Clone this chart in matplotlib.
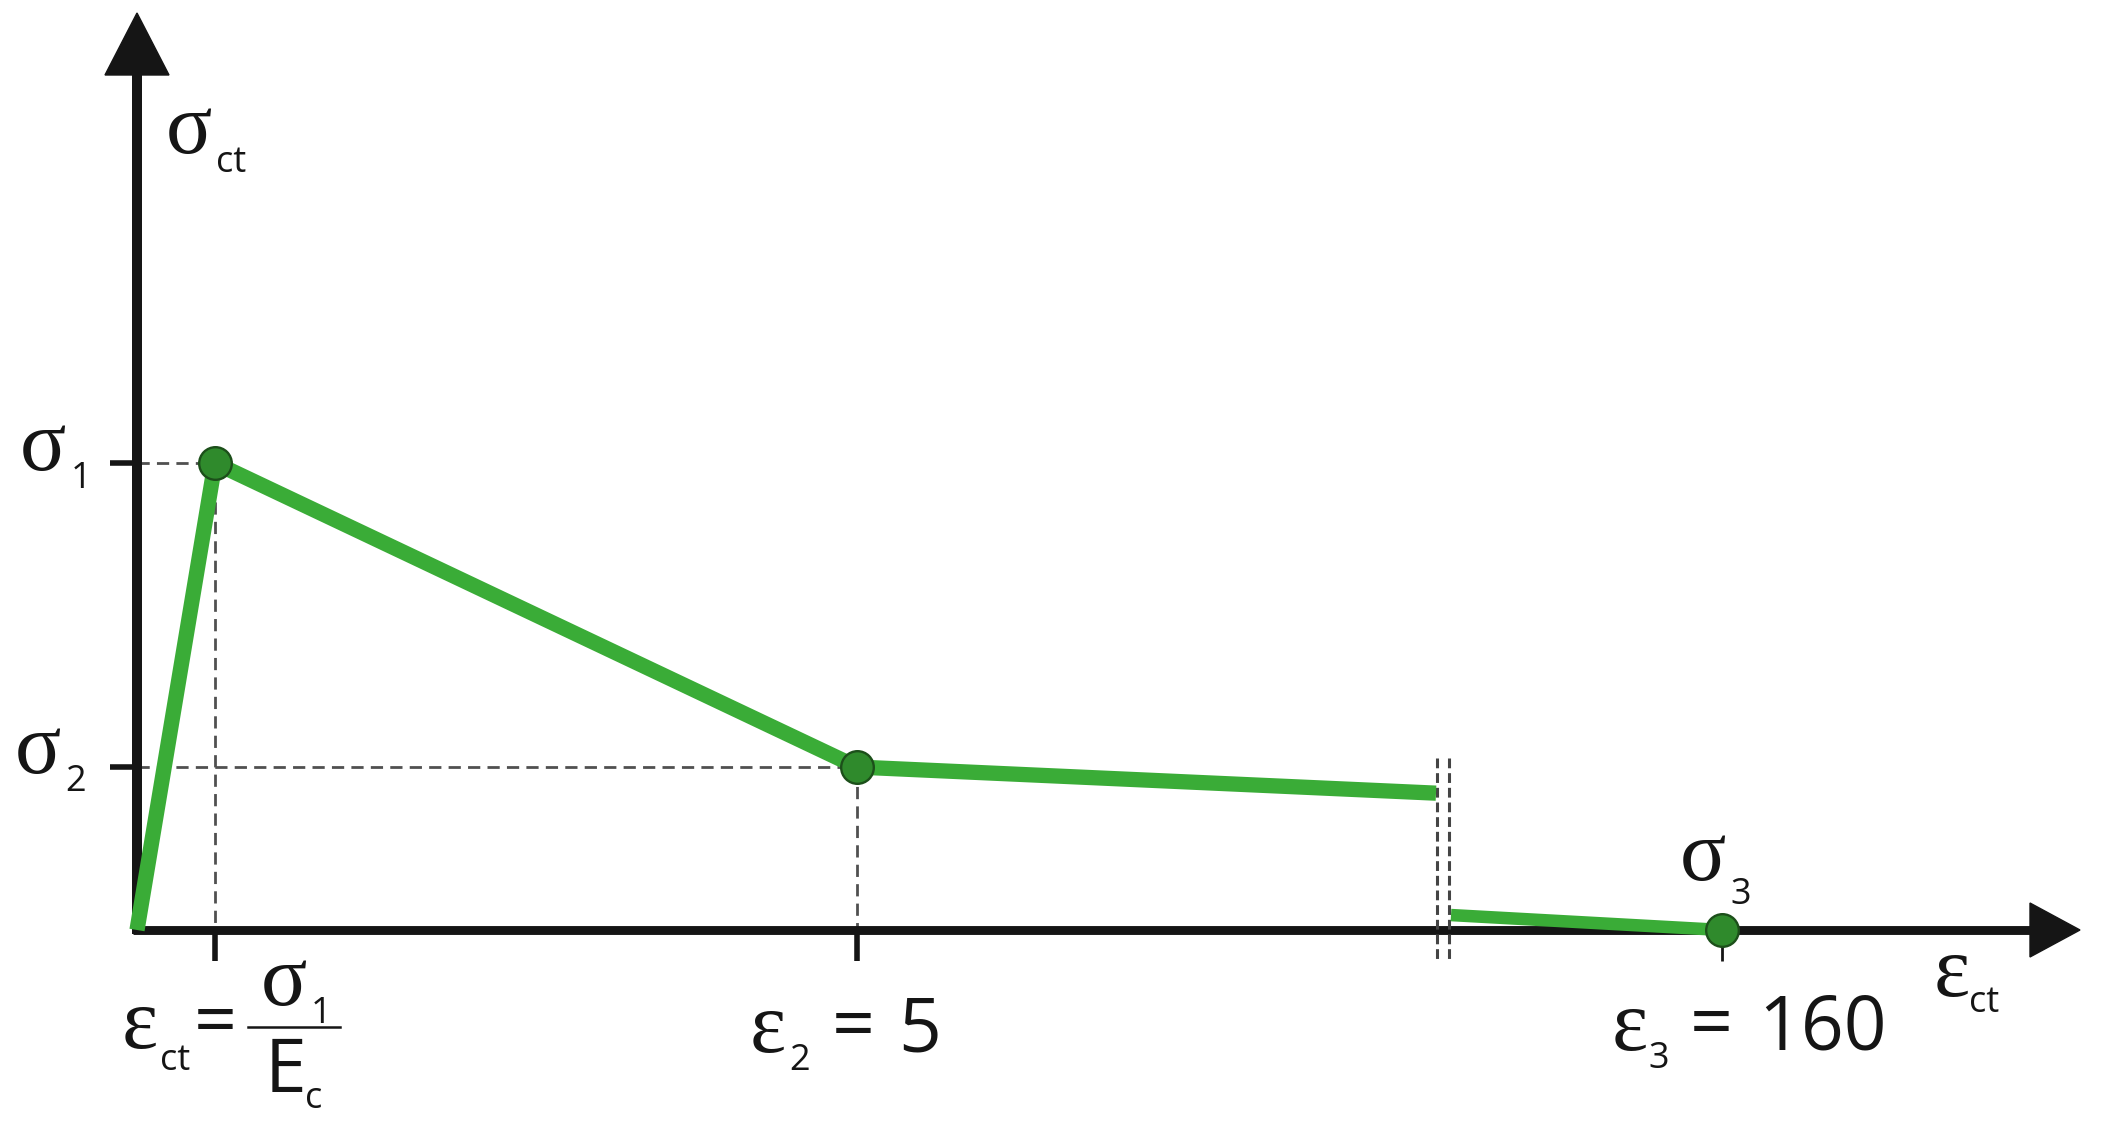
import matplotlib
matplotlib.use("Agg")
import matplotlib.pyplot as plt
from matplotlib.transforms import IdentityTransform
from matplotlib.patches import Polygon

# ---------------- data (schematic positions / normalised stress) ----------------
branch1_strain = [0.0, 0.78, 7.20, 12.99]      # schematic x positions before the axis break
branch1_stress = [0.0, 1.0, 0.349, 0.293]      # sigma / sigma_1
branch2_strain = [13.14, 15.85]                # after the axis break
branch2_stress = [0.032, 0.0]
point_strain = [0.78, 7.20, 15.85]             # marked points (eps_1, eps_2, eps_3)
point_stress = [1.0, 0.349, 0.0]               # sigma_1, sigma_2, sigma_3
ytick_vals = [1.0, 0.349]
xtick_vals = [0.78, 7.20, 15.85]
break_pos = [13.00, 13.12]

W, H = 2104, 1124
X0, Y0 = 137, 930          # pixel position of the origin
SX, SY = 100.0, 467.0      # pixels per data unit

fig = plt.figure(figsize=(W / 100, H / 100), dpi=100)
ax = fig.add_axes([0, 0, 1, 1])
ax.set_xlim(-X0 / SX, (W - X0) / SX)
ax.set_ylim(-(H - Y0) / SY, Y0 / SY)
ax.axis("off")

GREEN = "#3aac37"
DOT = "#2f8a2c"
DOT_EDGE = "#1c4f1a"
GREY = "#505050"
INK = "#151515"

# axes with arrows
y_top_base = (Y0 - 75) / SY
y_tip = (Y0 - 13) / SY
x_right_base = (2030 - X0) / SX
x_tip = (2080 - X0) / SX
ax.plot([0, 0], [-4 / SY, y_top_base], color=INK, lw=7.2, solid_capstyle="butt", zorder=3)
ax.plot([-4 / SX, x_right_base], [0, 0], color=INK, lw=6.4, solid_capstyle="butt", zorder=3)
ax.add_patch(Polygon([[-32 / SX, y_top_base], [32 / SX, y_top_base], [0, y_tip]],
                     closed=True, color=INK, zorder=3))
ax.add_patch(Polygon([[x_right_base, 27 / SY], [x_right_base, -27 / SY], [x_tip, 0]],
                     closed=True, color=INK, zorder=3))

# ticks
for yv in ytick_vals:
    ax.plot([-27 / SX, 0], [yv, yv], color=INK, lw=4.0, solid_capstyle="butt", zorder=3)
for i, xv in enumerate(xtick_vals):
    lw = 4.0 if i < 2 else 2.0
    ax.plot([xv, xv], [0, -31 / SY], color=INK, lw=lw, solid_capstyle="butt", zorder=3)

# dashed guide lines
dash = dict(color=GREY, lw=2.0, dashes=(4.4, 2.6), zorder=2)
ax.plot([0, point_strain[0]], [point_stress[0], point_stress[0]], **dash)
ax.plot([point_strain[0], point_strain[0]], [point_stress[0], 0], **dash)
ax.plot([0, point_strain[1]], [point_stress[1], point_stress[1]], **dash)
ax.plot([point_strain[1], point_strain[1]], [point_stress[1], 0], **dash)

# axis break marks
for bx in break_pos:
    ax.plot([bx, bx], [(Y0 - 758) / SY, (Y0 - 962) / SY], color="#444444", lw=2.2,
            dashes=(3.2, 1.6), zorder=4)

# curve
ax.plot(branch1_strain, branch1_stress, color=GREEN, lw=11.0,
        solid_capstyle="butt", solid_joinstyle="round", zorder=5)
ax.plot(branch2_strain, branch2_stress, color=GREEN, lw=9.0,
        solid_capstyle="butt", zorder=5)
ax.plot(point_strain, point_stress, linestyle="none", marker="o", markersize=23.5,
        markerfacecolor=DOT, markeredgecolor=DOT_EDGE, markeredgewidth=1.7, zorder=6)

# ---------------- labels ----------------
ID = IdentityTransform()
GREEK = ["Liberation Serif", "DejaVu Serif"]
SANS = ["Open Sans", "DejaVu Sans"]


def txt(px, py, s, size, fam, **kw):
    fig.text(px, H - py, s, transform=ID, fontsize=size, family=fam, color=INK,
             ha="left", va="baseline", **kw)


GS = 62     # greek size
SUB = 26    # subscript size
NUM = 54    # numbers size

# y axis label sigma_ct
txt(166, 153, "σ", GS, GREEK)
txt(216, 172, "ct", SUB, SANS)
# sigma_1, sigma_2
txt(20, 470, "σ", GS, GREEK)
txt(71, 488, "1", SUB, SANS)
txt(15, 773, "σ", GS, GREEK)
txt(65, 791, "2", SUB, SANS)
# sigma_3
txt(1680, 880, "σ", GS, GREEK)
txt(1730, 904, "3", SUB, SANS)
# x axis label
txt(1934, 996, "ε", GS, GREEK)
txt(1969, 1012, "ct", SUB, SANS)

# eps_ct = sigma_1 / E_c
txt(122, 1048, "ε", GS, GREEK)
txt(160, 1070, "ct", SUB, SANS)
txt(194, 1046, "=", NUM, SANS)
fig.add_artist(plt.Line2D([248, 340], [H - 1027, H - 1027], transform=ID,
                          color=INK, lw=1.8))
txt(261, 1005, "σ", GS, GREEK)
txt(311, 1023, "1", SUB, SANS)
txt(265, 1092, "E", NUM, SANS)
txt(305, 1108, "c", SUB, SANS)

# eps_2 = 5
txt(750, 1052, "ε", GS, GREEK)
txt(789, 1070, "2", SUB, SANS)
txt(832, 1050, "=", NUM, SANS)
txt(898, 1052, "5", NUM, SANS)

# eps_3 = 160
txt(1612, 1050, "ε", GS, GREEK)
txt(1648, 1068, "3", SUB, SANS)
txt(1690, 1048, "=", NUM, SANS)
txt(1758, 1050, "160", NUM, SANS)

fig.savefig("out.png", dpi=100, facecolor="white")
